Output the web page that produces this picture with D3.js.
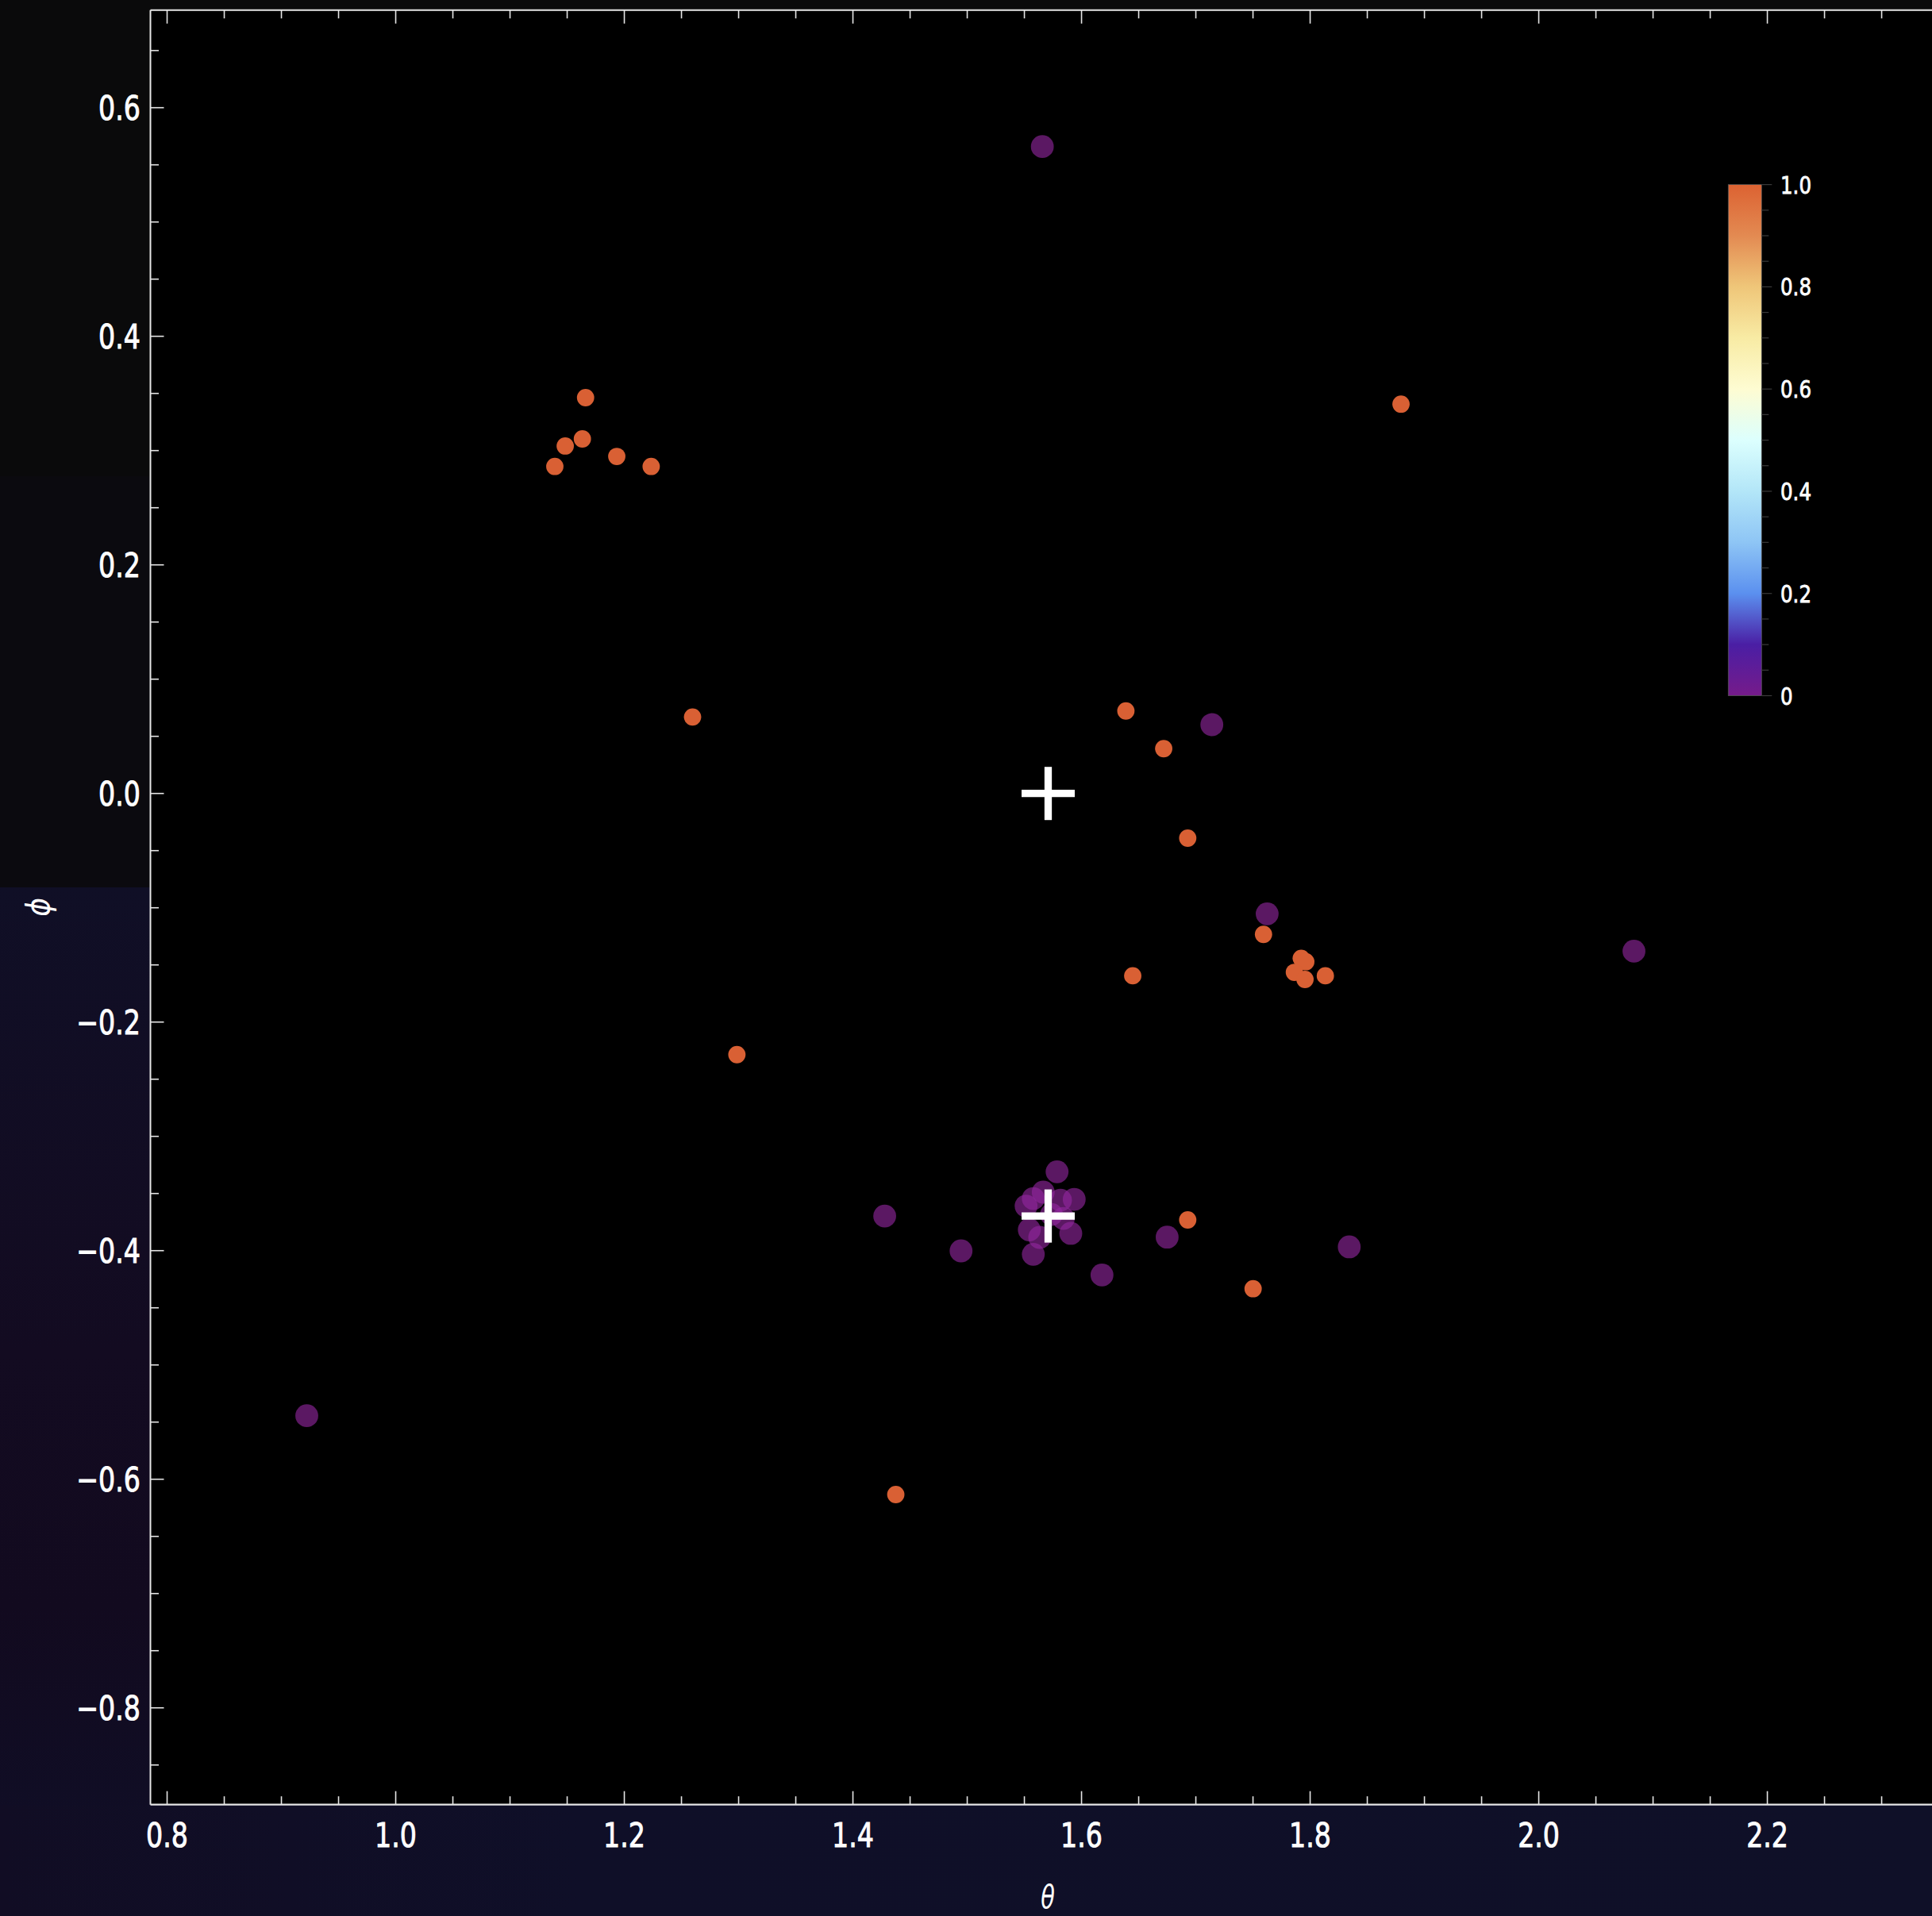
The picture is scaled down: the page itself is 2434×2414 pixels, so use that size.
<!DOCTYPE html>
<html><head><meta charset="utf-8">
<script src="https://cdn.jsdelivr.net/npm/d3@7/dist/d3.min.js"></script>
<style>html,body{margin:0;padding:0;background:#0a0a0b;overflow:hidden}</style>
</head><body>
<svg id="chart" width="2434" height="2414"></svg>
<script>
// ---------- data ----------
const orangeTheta = [1.1661,1.1633,1.1483,1.1392,1.1934,1.2235,1.8795,1.2597,1.6388,1.6719,1.6929,1.7592,1.7922,1.7962,1.7862,1.7955,1.8133,1.6448,1.2985,1.6929,1.7501,1.4375];
const orangePhi   = [0.3463,0.3102,0.3040,0.2861,0.2949,0.2861,0.3406,0.0669,0.0722,0.0392,-0.0391,-0.1233,-0.1442,-0.1472,-0.1565,-0.1627,-0.1595,-0.1595,-0.2285,-0.3731,-0.4333,-0.6134];
const orangeValue = 1;
const purpleTheta = [1.5657,1.7140,1.7624,2.0833,1.4278,1.4946,1.6179,1.6749,1.8342,0.9222,
                     1.5786,1.5936,1.5665,1.5515,1.5578,1.5816,1.5543,1.5634,1.5906,1.5578,1.5737,1.5841];
const purplePhi   = [0.5660,0.0602,-0.1053,-0.1380,-0.3697,-0.4002,-0.4213,-0.3882,-0.3967,-0.5444,
                     -0.3310,-0.3551,-0.3488,-0.3610,-0.3544,-0.3558,-0.3818,-0.3884,-0.3849,-0.4032,-0.3683,-0.3718];
const purpleValue = 0;
const crossTheta = [1.5708, 1.5708];
const crossPhi   = [0.0, -0.3697];
const xTicks = [0.8,1.0,1.2,1.4,1.6,1.8,2.0,2.2];
const yTicks = [-0.8,-0.6,-0.4,-0.2,0.0,0.2,0.4,0.6];
const cbTicks = [0,0.2,0.4,0.6,0.8,1.0];
const cbStopValues = [0,0.1,0.2,0.3,0.4,0.5,0.6,0.7,0.8,0.9,1.0];
const cbStopColors = ["#761b8a","#4a1ea4","#5b90ef","#8ec5f5","#b3e6f8","#dcfffe","#fefcd2","#f8eba4","#efc679","#e38a52","#dc6232"];

// ---------- setup ----------
const W = 2434, H = 2414;
const svg = d3.select("#chart");
const plot = {left:189.5, top:12.7, right:2451.5, bottom:2273.7};
const x = d3.scaleLinear().domain([Math.PI/4, 3*Math.PI/4]).range([plot.left, plot.right]);
const y = d3.scaleLinear().domain([-0.8847, 0.6854]).range([plot.bottom, plot.top]);
const FONT = "'DejaVu Sans Condensed','DejaVu Sans',sans-serif";

// ---------- background ----------
const defs = svg.append("defs");
const g1 = defs.append("linearGradient").attr("id","leftbg").attr("x1",0).attr("y1",0).attr("x2",0).attr("y2",1);
[["0%","#100f26"],["45%","#130b21"],["70%","#120a1f"],["100%","#0f0f28"]].forEach(s=>g1.append("stop").attr("offset",s[0]).attr("stop-color",s[1]));
const g2 = defs.append("linearGradient").attr("id","botbg").attr("x1",0).attr("y1",0).attr("x2",1).attr("y2",0);
[["0%","#110d24"],["30%","#0f0f28"],["100%","#0f1028"]].forEach(s=>g2.append("stop").attr("offset",s[0]).attr("stop-color",s[1]));
svg.append("rect").attr("x",0).attr("y",0).attr("width",W).attr("height",H).attr("fill","#0a0a0b");
svg.append("rect").attr("x",0).attr("y",600).attr("width",plot.left).attr("height",518).attr("fill","#0b0a0f");
svg.append("rect").attr("x",0).attr("y",1118).attr("width",plot.left+2).attr("height",H-1118).attr("fill","url(#leftbg)");
svg.append("rect").attr("x",0).attr("y",plot.bottom).attr("width",W).attr("height",H-plot.bottom).attr("fill","url(#botbg)");

// plot area
svg.append("rect").attr("x",plot.left).attr("y",plot.top)
  .attr("width",plot.right-plot.left).attr("height",plot.bottom-plot.top).attr("fill","#000");

// ---------- points ----------
const purple = purpleTheta.map((t,i)=>({t, p:purplePhi[i], v:purpleValue}));
const orange = orangeTheta.map((t,i)=>({t, p:orangePhi[i], v:orangeValue}));
svg.append("g").selectAll("circle").data(purple).join("circle")
  .attr("cx",d=>x(d.t)).attr("cy",d=>y(d.p)).attr("r",14.4)
  .attr("fill","#93279f").attr("fill-opacity",0.62);
svg.append("g").selectAll("circle").data(orange).join("circle")
  .attr("cx",d=>x(d.t)).attr("cy",d=>y(d.p)).attr("r",10.9)
  .attr("fill","#d96034");

// crosses
const crosses = crossTheta.map((t,i)=>({t,p:crossPhi[i]}));
const cg = svg.append("g").attr("stroke","#fff").attr("stroke-width",9.3);
crosses.forEach(c=>{
  const cx=x(c.t), cy=y(c.p), a=33.5;
  cg.append("line").attr("x1",cx-a).attr("x2",cx+a).attr("y1",cy).attr("y2",cy);
  cg.append("line").attr("x1",cx).attr("x2",cx).attr("y1",cy-a).attr("y2",cy+a);
});

// ---------- axes ----------
const axisColor = "#e6e6e6";
const minorX = d3.range(0.80, 2.36, 0.05).map(v=>+v.toFixed(2));
const minorY = d3.range(-0.85, 0.70, 0.05).map(v=>+v.toFixed(2));
const isMajor = v => Math.abs(v*5 - Math.round(v*5)) < 1e-6;
const ax = svg.append("g").attr("stroke",axisColor).attr("stroke-width",1.6);
ax.append("line").attr("x1",plot.left).attr("x2",W).attr("y1",plot.bottom).attr("y2",plot.bottom).attr("stroke-width",2.2);
ax.append("line").attr("x1",plot.left).attr("x2",W).attr("y1",plot.top).attr("y2",plot.top).attr("stroke-width",2);
ax.append("line").attr("x1",plot.left).attr("x2",plot.left).attr("y1",plot.top).attr("y2",plot.bottom).attr("stroke-width",2);
minorX.forEach(v=>{
  const L = isMajor(v)?17:10.5, px=x(v);
  ax.append("line").attr("x1",px).attr("x2",px).attr("y1",plot.bottom).attr("y2",plot.bottom-L);
  ax.append("line").attr("x1",px).attr("x2",px).attr("y1",plot.top).attr("y2",plot.top+L);
});
minorY.forEach(v=>{
  const L = isMajor(v)?17:10.5, py=y(v);
  ax.append("line").attr("x1",plot.left).attr("x2",plot.left+L).attr("y1",py).attr("y2",py);
});
const fmt = v => (v<0?"\u2212":"") + Math.abs(v).toFixed(1);
const labelStyle = sel => sel.attr("fill","#fff").attr("stroke","#fff").attr("stroke-width",0.9)
  .attr("font-family",FONT).attr("font-size",43);
svg.append("g").selectAll("text").data(xTicks).join("text")
  .attr("transform",d=>`translate(${x(d)},2327) scale(0.86,1)`).attr("text-anchor","middle")
  .call(labelStyle).text(d=>fmt(d));
svg.append("g").selectAll("text").data(yTicks).join("text")
  .attr("transform",d=>`translate(177,${y(d)+15.5}) scale(0.86,1)`).attr("text-anchor","end")
  .call(labelStyle).text(d=>fmt(d));
svg.append("text").attr("transform","translate(1320,2404) scale(0.8,1)").attr("text-anchor","middle")
  .attr("fill","#fff").attr("font-family",FONT).attr("font-style","italic").attr("font-size",40).text("\u03b8");
svg.append("text").attr("transform","translate(62,1143) rotate(-90)").attr("text-anchor","middle")
  .attr("fill","#fff").attr("font-family",FONT).attr("font-style","italic").attr("font-size",40).text("\u03d5");

// ---------- colorbar ----------
const cb = {x:2177.3, w:42, top:232.6, bottom:876.5};
const cy = d3.scaleLinear().domain([0,1]).range([cb.bottom, cb.top]);
const cgrad = defs.append("linearGradient").attr("id","cbgrad").attr("x1",0).attr("y1",1).attr("x2",0).attr("y2",0);
cbStopValues.forEach((v,i)=>cgrad.append("stop").attr("offset",(v*100)+"%").attr("stop-color",cbStopColors[i]));
svg.append("rect").attr("x",cb.x).attr("y",cb.top).attr("width",cb.w).attr("height",cb.bottom-cb.top)
  .attr("fill","url(#cbgrad)").attr("stroke","#555").attr("stroke-width",0.8);
const cbt = svg.append("g").attr("stroke","#3a3a3a").attr("stroke-width",1.2);
d3.range(0,1.0001,0.05).forEach(v=>{
  const L = isMajor(+v.toFixed(2))?13:9;
  cbt.append("line").attr("x1",cb.x+cb.w).attr("x2",cb.x+cb.w+L).attr("y1",cy(v)).attr("y2",cy(v));
});
svg.append("g").selectAll("text").data(cbTicks).join("text")
  .attr("transform",d=>`translate(2243,${cy(d)+11}) scale(0.88,1)`).attr("fill","#fff")
  .attr("stroke","#fff").attr("stroke-width",0.8)
  .attr("font-family",FONT).attr("font-size",31).text(d=>d===0?"0":d.toFixed(1));
</script>
</body></html>
